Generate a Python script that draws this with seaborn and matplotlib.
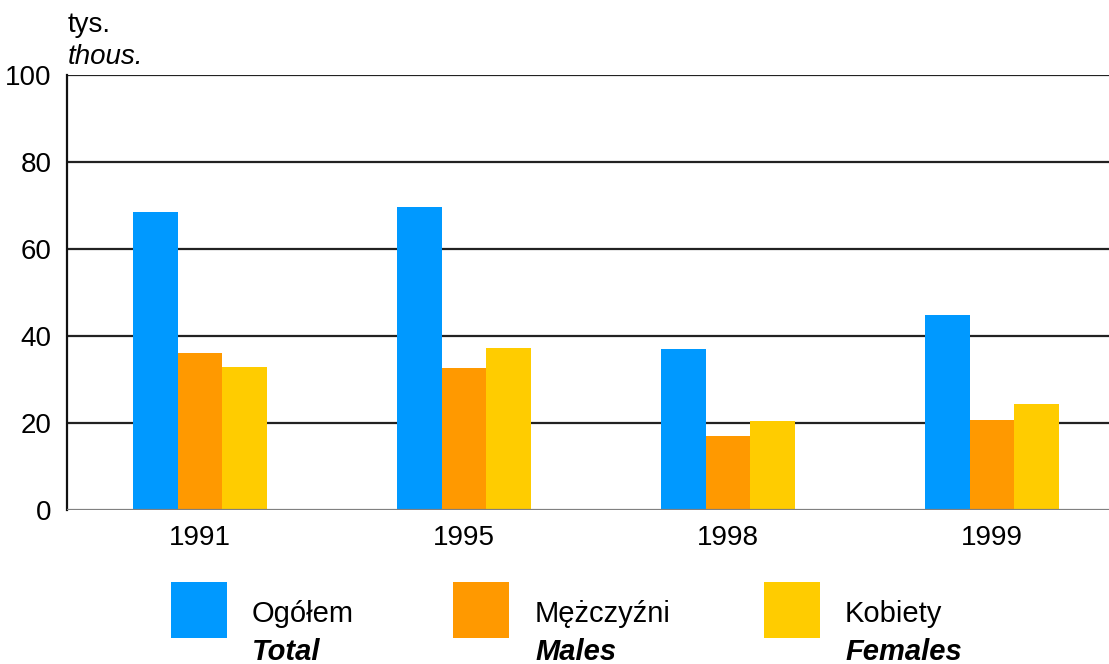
import matplotlib
matplotlib.use("Agg")
import matplotlib.pyplot as plt
import seaborn as sns
import pandas as pd
from matplotlib.patches import Rectangle

years = ["1991", "1995", "1998", "1999"]
total = [68.5, 69.7, 37.0, 44.8]
males = [36.0, 32.6, 17.0, 20.7]
females = [32.9, 37.2, 20.5, 24.4]
series_pl = ["Ogółem", "Mężczyźni", "Kobiety"]
series_en = ["Total", "Males", "Females"]
colors = ["#0099FF", "#FF9900", "#FFCC00"]
yticks = [0, 20, 40, 60, 80, 100]

rows = []
for name, vals in zip(series_en, [total, males, females]):
    for y, v in zip(years, vals):
        rows.append({"year": y, "series": name, "value": v})
df = pd.DataFrame(rows)

sns.set_theme(style="white")
plt.rcParams["font.family"] = ["Liberation Sans", "DejaVu Sans"]
plt.rcParams["text.color"] = "black"

fig = plt.figure(figsize=(11.09, 6.64), dpi=100)
ax = fig.add_axes([67 / 1109, 1 - 510 / 664, 1 - 67 / 1109, 435 / 664])

sns.barplot(data=df, x="year", y="value", hue="series", hue_order=series_en,
            palette=colors, saturation=1, width=0.51, gap=0, linewidth=0,
            ax=ax, legend=False, zorder=3)

ax.set_xlim(-0.504, 3.443)
ax.set_ylim(0, 100)
ax.set_yticks(yticks)
ax.set_yticklabels([str(t) for t in yticks])
ax.set_xlabel("")
ax.set_ylabel("")
for t in yticks[1:]:
    ax.axhline(t, color="#222222", linewidth=1.6, zorder=1)
ax.axhline(0, color="#808080", linewidth=1.6, zorder=4)
for s in ["top", "right", "bottom"]:
    ax.spines[s].set_visible(False)
ax.spines["left"].set_color("#111111")
ax.spines["left"].set_linewidth(1.6)
ax.tick_params(axis="both", length=0, labelsize=20, colors="black", labelcolor="black")
ax.tick_params(axis="y", pad=11)
ax.tick_params(axis="x", pad=11)

fig.text(68 / 1109, 1 - 25 / 664, "tys.", fontsize=20, color="black", va="center", ha="left")
fig.text(68 / 1109, 1 - 57 / 664, "thous.", fontsize=20, style="italic", color="black",
         va="center", ha="left")

sq_x = [171, 453, 764]
txt_x = [252, 535, 845]
for sx, tx, c, pl, en in zip(sq_x, txt_x, colors, series_pl, series_en):
    fig.patches.append(Rectangle((sx / 1109, 1 - 638 / 664), 56 / 1109, 56 / 664,
                                 transform=fig.transFigure, facecolor=c,
                                 edgecolor="none", figure=fig))
    fig.text(tx / 1109, 1 - 614 / 664, pl, fontsize=21, color="black", va="center", ha="left")
    fig.text(tx / 1109, 1 - 652 / 664, en, fontsize=21, style="italic", color="black",
             fontweight="bold", va="center", ha="left")

fig.savefig("out.png", dpi=100)
